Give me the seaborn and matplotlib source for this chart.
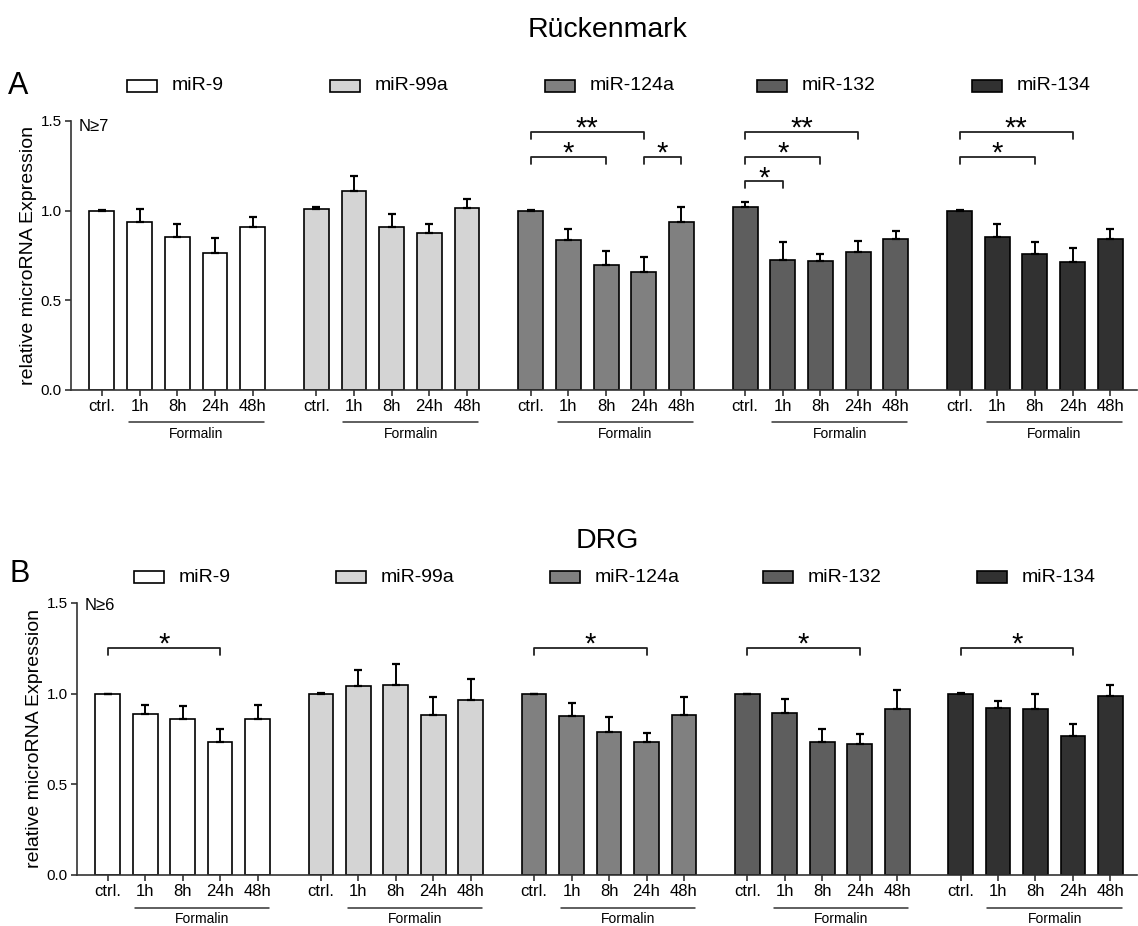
import numpy as np
import pandas as pd
import matplotlib
matplotlib.use("Agg")
import matplotlib.pyplot as plt
import matplotlib.transforms as mtrans
from matplotlib.patches import Rectangle
import seaborn as sns

# ---------------- data ----------------
mirnas = ["miR-9", "miR-99a", "miR-124a", "miR-132", "miR-134"]
timepoints = ["ctrl.", "1h", "8h", "24h", "48h"]
bar_colors = ["#ffffff", "#d4d4d4", "#808080", "#5e5e5e", "#313131"]

# Rückenmark (panel A): mean and SEM per miRNA, order = timepoints
rm_mir9 = [1.000, 0.935, 0.855, 0.766, 0.909]
rm_mir9_sem = [0.006, 0.075, 0.072, 0.080, 0.054]
rm_mir99a = [1.011, 1.110, 0.907, 0.874, 1.017]
rm_mir99a_sem = [0.011, 0.085, 0.076, 0.050, 0.050]
rm_mir124a = [1.000, 0.834, 0.697, 0.656, 0.939]
rm_mir124a_sem = [0.002, 0.061, 0.078, 0.087, 0.080]
rm_mir132 = [1.022, 0.725, 0.721, 0.771, 0.842]
rm_mir132_sem = [0.028, 0.099, 0.037, 0.062, 0.046]
rm_mir134 = [1.000, 0.851, 0.756, 0.714, 0.844]
rm_mir134_sem = [0.002, 0.075, 0.069, 0.076, 0.056]

# DRG (panel B)
drg_mir9 = [1.000, 0.886, 0.863, 0.736, 0.860]
drg_mir9_sem = [0.000, 0.052, 0.068, 0.070, 0.077]
drg_mir99a = [1.000, 1.045, 1.047, 0.885, 0.966]
drg_mir99a_sem = [0.004, 0.083, 0.114, 0.099, 0.116]
drg_mir124a = [1.000, 0.878, 0.788, 0.734, 0.883]
drg_mir124a_sem = [0.000, 0.071, 0.081, 0.050, 0.096]
drg_mir132 = [1.000, 0.893, 0.731, 0.720, 0.915]
drg_mir132_sem = [0.000, 0.075, 0.075, 0.057, 0.103]
drg_mir134 = [1.000, 0.920, 0.918, 0.768, 0.985]
drg_mir134_sem = [0.004, 0.037, 0.080, 0.066, 0.064]

# significance: (miRNA index, from timepoint, to timepoint, label)
rm_sig = [(2, 0, 3, "**"), (2, 0, 2, "*"), (2, 3, 4, "*"),
          (3, 0, 3, "**"), (3, 0, 2, "*"), (3, 0, 1, "*"),
          (4, 0, 3, "**"), (4, 0, 2, "*")]
rm_sig_y = [1.44, 1.30, 1.30, 1.44, 1.30, 1.163, 1.44, 1.30]
drg_sig = [(0, 0, 3, "*"), (2, 0, 3, "*"), (3, 0, 3, "*"), (4, 0, 3, "*")]
drg_sig_y = [1.252, 1.252, 1.252, 1.252]

GROUP_STEP = 5.69


def make_df(means, sems):
    rows = []
    for g, (m, s) in enumerate(zip(means, sems)):
        for i, t in enumerate(timepoints):
            rows.append(dict(mirna=mirnas[g], time=t, mean=m[i], sem=s[i],
                             pos=g * GROUP_STEP + i))
    return pd.DataFrame(rows)


df_a = make_df([rm_mir9, rm_mir99a, rm_mir124a, rm_mir132, rm_mir134],
               [rm_mir9_sem, rm_mir99a_sem, rm_mir124a_sem, rm_mir132_sem, rm_mir134_sem])
df_b = make_df([drg_mir9, drg_mir99a, drg_mir124a, drg_mir132, drg_mir134],
               [drg_mir9_sem, drg_mir99a_sem, drg_mir124a_sem, drg_mir132_sem, drg_mir134_sem])

# ---------------- style ----------------
sns.set_theme(style="ticks")
plt.rcParams["font.family"] = ["Liberation Sans", "DejaVu Sans"]
plt.rcParams["text.color"] = "black"
plt.rcParams["axes.labelcolor"] = "black"
AXC = "#333333"

W, H = 1138, 926
fig = plt.figure(figsize=(W / 100, H / 100), dpi=100)


def px_axes(left, top, right, bottom):
    return fig.add_axes([left / W, 1 - bottom / H, (right - left) / W, (bottom - top) / H])


def draw_panel(ax, df, sig, sig_y, ntext, ny, ax_h_px):
    sns.barplot(data=df, x="pos", y="mean", hue="mirna", hue_order=mirnas,
                palette=bar_colors, native_scale=True, dodge=False, width=0.66,
                errorbar=None, edgecolor="black", linewidth=1.2, legend=False,
                saturation=1, ax=ax)
    ax.errorbar(df["pos"], df["mean"], yerr=[np.zeros(len(df)), df["sem"]],
                fmt="none", ecolor="black", elinewidth=1.4, capsize=3.2,
                capthick=1.6, zorder=3)
    ax.set_xlim(-0.82, 4 * GROUP_STEP + 4 + 0.71)
    ax.set_ylim(0, 1.5)
    ax.set_yticks([0, 0.5, 1.0, 1.5])
    ax.set_yticklabels(["0.0", "0.5", "1.0", "1.5"], fontsize=11)
    ax.set_xticks(df["pos"])
    ax.set_xticklabels(df["time"], fontsize=12)
    ax.set_xlabel("")
    ax.set_ylabel("relative microRNA Expression", fontsize=14, labelpad=3)
    for s in ["top", "right"]:
        ax.spines[s].set_visible(False)
    for s in ["left", "bottom"]:
        ax.spines[s].set_color(AXC)
        ax.spines[s].set_linewidth(1.2)
    ax.spines["left"].set_bounds(0, 1.5)
    ax.tick_params(axis="both", direction="out", color=AXC, width=1.2, length=4.5,
                   pad=2, labelcolor="black")
    ax.patch.set_alpha(0)

    trans = mtrans.blended_transform_factory(ax.transData, ax.transAxes)
    y_line = -32.5 / ax_h_px
    y_txt = -44 / ax_h_px
    for g in range(len(mirnas)):
        x0 = g * GROUP_STEP + 1 - 0.28
        x1 = g * GROUP_STEP + 4 + 0.3
        ax.plot([x0, x1], [y_line, y_line], transform=trans, clip_on=False,
                color=AXC, lw=1.1)
        ax.text((x0 + x1) / 2, y_txt, "Formalin", transform=trans, ha="center",
                va="center", fontsize=10)

    d = 0.038
    for (g, i0, i1, lab), h in zip(sig, sig_y):
        x0 = g * GROUP_STEP + i0
        x1 = g * GROUP_STEP + i1
        ax.plot([x0, x0, x1, x1], [h - d, h, h, h - d], color="#222222", lw=1.3,
                clip_on=False)
        ax.text((x0 + x1) / 2, h - 0.026, lab, ha="center", va="baseline",
                fontsize=21)

    ax.text(0.007, ny, ntext, transform=ax.transAxes,
            ha="left", va="center", fontsize=12)


axA = px_axes(71, 121, 1137, 390)
axB = px_axes(77, 603, 1137, 875)
draw_panel(axA, df_a, rm_sig, rm_sig_y, "N≥7", 0.98, 269)
draw_panel(axB, df_b, drg_sig, drg_sig_y, "N≥6", 0.99, 272)

# titles and panel letters
fig.text(608 / W, 1 - 30 / H, "Rückenmark", ha="center", va="center", fontsize=20.5)
fig.text(607 / W, 1 - 541 / H, "DRG", ha="center", va="center", fontsize=20.5)
fig.text(8 / W, 1 - 86 / H, "A", ha="left", va="center", fontsize=22)
fig.text(10 / W, 1 - 574 / H, "B", ha="left", va="center", fontsize=22)


# legends (one row per panel)
def draw_legend(y_px, lefts):
    for name, col, lx in zip(mirnas, bar_colors, lefts):
        fig.patches.append(Rectangle((lx / W, 1 - (y_px + 6) / H), 30 / W, 12 / H,
                                     transform=fig.transFigure, facecolor=col,
                                     edgecolor="black", lw=1.2))
        fig.text((lx + 45) / W, 1 - y_px / H, name, ha="left", va="center",
                 fontsize=14)


draw_legend(86, [127, 330, 545, 757, 972])
draw_legend(577, [134, 336, 550, 763, 977])

fig.savefig("out.png", dpi=100)
